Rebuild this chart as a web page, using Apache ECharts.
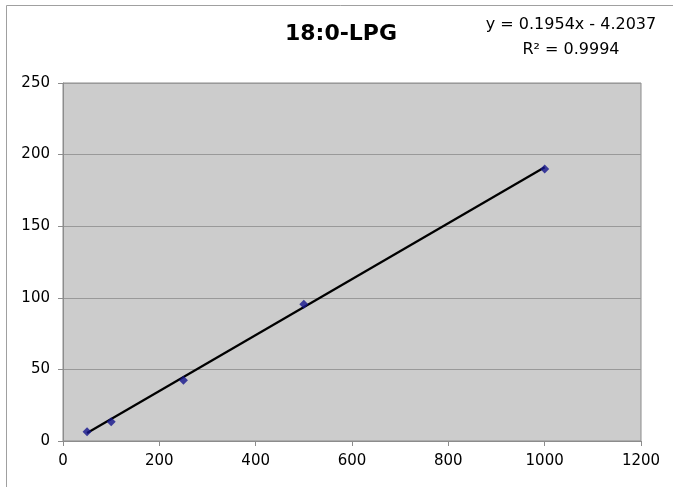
<!DOCTYPE html>
<html>
<head>
<meta charset="utf-8">
<script src="https://cdn.jsdelivr.net/npm/echarts@6/dist/echarts.min.js"></script>
<style>html,body{margin:0;padding:0;background:#fff}#c{width:673px;height:487px}</style>
</head>
<body>
<div id="c"></div>
<script>
var titleText = '18:0-LPG';
var equationText = 'y = 0.1954x - 4.2037';
var r2Text = 'R² = 0.9994';
var xValues = [50, 100, 250, 500, 1000];
var yValues = [6.5, 13.5, 42.5, 95.5, 190];
var trendX = [50, 1000];
var trendY = [5.57, 191.2];
var xTicks = [0, 200, 400, 600, 800, 1000, 1200];
var yTicks = [0, 50, 100, 150, 200, 250];

var font = '"DejaVu Sans", Verdana, sans-serif';
var chart = echarts.init(document.getElementById('c'), null, {renderer: 'canvas'});
chart.setOption({
  animation: false,
  backgroundColor: '#ffffff',
  graphic: [
    {type: 'rect', left: 4, top: 3, shape: {width: 700, height: 500}, style: {fill: 'none', stroke: '#a0a0a0', lineWidth: 1}, z: 0}
  ],
  title: [
    {text: titleText, left: 336, top: 18, textAlign: 'center',
     textStyle: {fontFamily: font, fontWeight: 'bold', fontSize: 22, color: '#000'}},
    {text: equationText, left: 566, top: 12, textAlign: 'center',
     textStyle: {fontFamily: font, fontWeight: 'normal', fontSize: 16, color: '#000'}},
    {text: r2Text, left: 566, top: 37, textAlign: 'center',
     textStyle: {fontFamily: font, fontWeight: 'normal', fontSize: 16, color: '#000'}}
  ],
  grid: {left: 63, right: 32, top: 83, bottom: 46, show: true, backgroundColor: '#cccccc', borderColor: '#8c8c8c', borderWidth: 1},
  xAxis: {
    type: 'value', min: xTicks[0], max: xTicks[xTicks.length - 1], interval: 200,
    axisLine: {show: true, lineStyle: {color: '#8c8c8c'}},
    axisTick: {show: true, length: 5, lineStyle: {color: '#8c8c8c'}},
    splitLine: {show: false},
    axisLabel: {fontFamily: font, fontSize: 15, color: '#000', margin: 13, formatter: function (v) { return String(v); }}
  },
  yAxis: {
    type: 'value', min: yTicks[0], max: yTicks[yTicks.length - 1], interval: 50,
    axisLine: {show: true, lineStyle: {color: '#8c8c8c'}},
    axisTick: {show: true, length: 5, lineStyle: {color: '#8c8c8c'}},
    splitLine: {show: true, lineStyle: {color: '#999999', width: 1}},
    axisLabel: {fontFamily: font, fontSize: 15, color: '#000', margin: 13, formatter: function (v) { return String(v); }}
  },
  series: [
    {type: 'line', data: trendX.map(function (x, i) { return [x, trendY[i]]; }),
     symbol: 'none', lineStyle: {color: '#000', width: 2.2}, z: 2},
    {type: 'scatter', data: xValues.map(function (x, i) { return [x, yValues[i]]; }),
     symbol: 'diamond', symbolSize: 9, itemStyle: {color: '#14148c'}, z: 3}
  ]
});
</script>
</body>
</html>
